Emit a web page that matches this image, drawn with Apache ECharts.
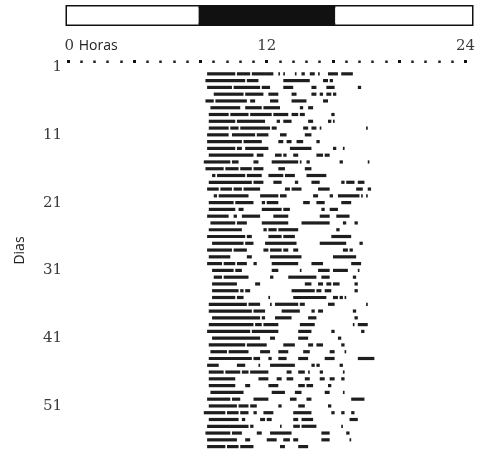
<!DOCTYPE html>
<html>
<head>
<meta charset="utf-8">
<script src="https://cdn.jsdelivr.net/npm/echarts@6/dist/echarts.min.js"></script>
<style>
  html, body { margin: 0; padding: 0; background: #fff; }
  #chart { width: 478px; height: 450px; }
</style>
</head>
<body>
<div id="chart"></div>
<script>
// horas marcadas no eixo de cima, dias marcados no eixo da esquerda
var hourLabels = [0, 12, 24];
var dayLabels = [1, 11, 21, 31, 41, 51];

// fase de luz (claro / escuro) da barra superior, em horas
var lightPhases = [
	[0, 7.8, 'claro'],
	[7.8, 15.9, 'escuro'],
	[15.9, 24, 'claro']
];

// primeiro dia com registo de actividade
var firstDay = 2;

// periodos de actividade de cada dia [inicio, fim] em horas
var activity = [
	[[8.4,10.1],[10.2,11.0],[11.1,11.9],[11.9,12.4],[12.7,12.8],[13.0,13.1],[13.7,13.8],[14.1,14.3],[14.6,14.9],[15.1,15.2],[15.7,16.3],[16.5,17.2]],
	[[8.3,10.7],[10.8,11.5],[13.0,14.6],[15.4,15.7],[15.8,16.0]],
	[[8.4,9.9],[10.0,11.6],[11.7,12.2],[13.0,13.6],[14.7,15.0],[15.6,16.1],[17.5,17.7]],
	[[8.8,10.6],[10.7,11.8],[12.1,12.7],[13.5,13.8],[14.7,15.0],[15.2,15.4],[15.6,15.9],[16.0,16.2]],
	[[8.3,8.8],[8.9,10.8],[11.0,11.3],[12.2,12.7],[13.5,14.4],[15.4,15.7]],
	[[8.6,10.4],[10.7,11.7],[11.8,12.8],[14.0,14.2],[14.5,14.8]],
	[[8.5,9.7],[9.8,10.9],[11.0,12.3],[12.4,13.3],[13.5,13.9],[14.0,14.3],[15.9,16.1]],
	[[8.5,10.1],[10.2,11.9],[12.6,12.8],[13.0,13.5],[14.5,14.8],[15.7,15.9],[16.0,16.1]],
	[[8.5,9.7],[9.8,10.3],[10.4,12.2],[12.3,12.6],[14.2,14.5],[14.7,15.0],[15.2,15.3],[18.0,18.1]],
	[[8.4,9.7],[9.9,11.3],[11.4,12.1],[12.8,13.2],[14.3,14.7]],
	[[8.4,10.5],[10.6,11.7],[12.7,13.0],[13.2,13.5],[13.8,14.2],[15.0,15.2]],
	[[8.4,10.1],[10.2,10.5],[10.7,12.1],[13.4,14.7],[16.0,16.2],[16.6,16.7]],
	[[8.5,11.2],[11.4,11.8],[12.5,12.9],[13.0,13.2],[13.6,13.9],[15.0,15.4],[15.5,15.8]],
	[[8.2,9.8],[9.9,10.3],[11.2,11.5],[12.3,13.9],[14.0,14.1],[14.4,14.6],[16.4,16.6],[18.1,18.2]],
	[[8.3,9.4],[9.5,10.3],[10.4,11.1],[11.2,11.8],[12.7,13.1],[14.3,14.7]],
	[[8.7,8.9],[9.0,10.7],[10.8,11.7],[12.1,13.0],[13.1,13.7],[14.4,15.6]],
	[[8.5,11.1],[11.2,11.8],[12.4,12.9],[13.7,13.9],[14.7,15.2],[16.5,16.7],[16.8,17.3],[17.5,17.9]],
	[[8.4,9.1],[9.2,9.9],[10.0,10.5],[10.6,11.6],[13.1,13.4],[13.5,14.1],[15.1,15.8],[17.4,17.8],[18.1,18.3]],
	[[8.8,9.0],[9.1,10.9],[11.6,12.7],[12.8,13.2],[14.8,15.1],[15.8,16.0],[16.3,17.6],[17.7,17.8],[18.0,18.1]],
	[[8.5,10.0],[10.1,11.2],[11.7,11.9],[12.0,12.7],[14.2,14.6],[15.0,15.5],[16.5,17.1]],
	[[8.5,10.1],[10.3,10.6],[11.7,12.9],[13.0,13.4],[15.3,15.5],[15.8,16.3]],
	[[8.4,9.7],[10.0,10.2],[10.5,11.6],[12.4,13.3],[15.2,15.8],[16.2,17.0]],
	[[8.6,10.1],[10.2,10.8],[11.7,13.3],[14.1,15.8],[16.6,16.8],[17.3,17.5]],
	[[8.5,10.5],[11.8,12.0],[12.1,12.6],[12.7,13.9],[16.2,16.4]],
	[[8.4,10.7],[10.8,11.1],[12.1,12.9],[13.0,13.7],[15.9,17.1]],
	[[8.7,10.6],[10.7,11.2],[11.9,13.8],[15.2,16.8],[17.6,17.8]],
	[[8.4,9.9],[10.0,10.8],[11.8,12.1],[12.2,12.9],[13.0,13.3],[13.6,13.9],[16.6,16.9],[17.0,17.2]],
	[[8.5,9.8],[10.8,11.1],[12.2,14.1],[16.0,17.4]],
	[[8.4,9.3],[9.4,10.1],[10.2,10.8],[11.2,11.4],[12.3,13.9],[14.7,15.4],[17.1,17.7]],
	[[8.7,10.0],[10.1,10.5],[12.3,12.7],[14.0,14.1],[15.1,15.8],[16.0,16.9],[17.5,17.6]],
	[[8.8,9.3],[9.4,10.9],[12.2,12.4],[13.3,15.0],[15.3,15.8],[17.2,17.4]],
	[[8.7,10.2],[11.3,11.6],[14.3,14.7],[15.1,15.4],[15.6,15.9],[16.0,16.4],[17.3,17.5]],
	[[8.7,10.3],[10.4,10.6],[10.7,11.0],[13.5,14.9],[15.0,15.3],[15.5,15.9],[17.3,17.5]],
	[[8.7,10.1],[10.2,10.6],[12.1,12.2],[13.6,15.6],[16.0,16.3],[16.4,16.6],[16.7,16.8]],
	[[8.5,10.8],[10.9,11.6],[12.2,12.3],[12.5,13.9],[14.0,14.3],[15.7,16.1],[18.0,18.1]],
	[[8.5,11.1],[11.2,11.9],[12.9,14.0],[14.7,14.9],[15.1,15.4],[17.2,17.4]],
	[[8.7,11.6],[11.7,11.9],[12.5,13.5],[14.5,15.0],[17.3,17.5]],
	[[8.5,11.2],[11.3,11.7],[11.8,12.7],[14.0,14.9],[17.2,17.3],[17.5,18.1]],
	[[8.4,11.0],[11.1,12.7],[13.9,14.7],[15.9,16.1],[17.7,17.9]],
	[[8.7,11.6],[12.2,12.5],[13.9,14.5],[16.3,16.5]],
	[[8.5,10.7],[10.8,12.0],[13.0,13.7],[14.5,14.8],[15.0,15.4],[16.5,16.7]],
	[[8.6,9.6],[9.7,10.9],[11.6,12.2],[12.7,13.3],[14.2,14.6],[15.8,16.1],[16.7,16.8]],
	[[8.5,11.1],[11.2,11.6],[12.1,12.3],[12.7,13.2],[13.9,14.5],[15.5,16.1],[17.5,18.5]],
	[[8.4,9.1],[10.2,10.7],[11.5,11.6],[12.2,13.7],[14.7,14.9],[15.0,15.2],[16.4,16.6]],
	[[8.5,9.4],[9.5,10.4],[10.5,10.9],[11.0,12.1],[13.2,13.5],[13.9,14.3],[14.5,14.6],[15.2,15.4],[16.6,16.7]],
	[[8.5,10.1],[11.5,12.1],[12.6,12.9],[13.2,13.6],[14.3,14.6],[15.2,15.5],[15.8,16.1],[16.5,16.7]],
	[[8.5,10.1],[10.7,11.0],[12.1,12.7],[13.9,14.3],[14.4,14.8],[15.7,15.9]],
	[[8.6,10.6],[12.3,13.1],[13.7,14.1],[15.5,15.8],[16.6,16.7]],
	[[8.4,9.8],[9.9,10.4],[11.2,12.1],[13.4,13.8],[14.4,14.7],[17.1,17.9]],
	[[8.5,10.2],[10.3,10.9],[11.0,11.4],[12.7,12.9],[13.9,14.3],[15.7,15.9]],
	[[8.2,9.5],[9.6,10.3],[10.4,10.9],[11.2,11.4],[11.8,12.4],[13.6,14.7],[15.9,16.1],[16.5,16.7],[17.1,17.3]],
	[[8.5,10.3],[10.5,10.7],[11.6,11.9],[12.0,12.3],[13.6,13.9],[14.1,14.8],[17.0,17.5]],
	[[8.4,10.9],[11.0,11.2],[12.8,12.9],[13.6,14.0],[14.1,15.0],[16.5,16.6]],
	[[8.3,9.8],[9.9,10.5],[11.4,11.7],[12.2,13.5],[15.3,15.8],[16.8,17.0]],
	[[8.4,10.2],[10.7,11.0],[12.0,12.6],[13.0,13.4],[13.6,13.9],[15.3,15.8],[17.0,17.1]],
	[[8.4,9.5],[9.6,10.3],[10.4,11.2],[12.8,13.1],[13.9,14.5]]
];

var segData = [];
for (var i = 0; i < activity.length; i++) {
	for (var j = 0; j < activity[i].length; j++) {
		segData.push([firstDay + i, activity[i][j][0], activity[i][j][1]]);
	}
}

var serif = '"DejaVu Serif", "Liberation Serif", serif';
var sans = '"Open Sans", "Noto Sans", sans-serif';

var dom = document.getElementById('chart');
var myChart = echarts.init(dom);
var option = {
	animation: false,
	grid: [
		{ left: 68, right: 8, top: 63, bottom: 0 },
		{ left: 67, right: 6, top: 6.5, height: 18, show: true, borderColor: '#111', borderWidth: 3, backgroundColor: '#fff' }
	],
	xAxis: [
		{
			gridIndex: 0,
			type: 'value',
			position: 'top',
			min: 0,
			max: 24,
			interval: 4,
			axisLine: { show: false },
			splitLine: { show: false },
			axisTick: { show: true, length: 3, lineStyle: { color: '#111', width: 3 } },
			minorTick: { show: true, splitNumber: 5, length: 2.5, lineStyle: { color: '#222', width: 2.5 } },
			minorSplitLine: { show: false },
			axisLabel: {
				margin: 9,
				customValues: hourLabels,
				color: '#3a3a3a',
				fontFamily: serif,
				fontSize: 15,
				formatter: function (v) {
					if (v === 0) return '{p|}{n|0} {h|Horas}';
					return '{n|' + v + '}';
				},
				rich: {
					p: { width: 46 },
					n: { fontFamily: serif, fontSize: 15, color: '#3a3a3a' },
					h: { fontFamily: sans, fontSize: 14, color: '#222' }
				}
			}
		},
		{
			gridIndex: 1,
			type: 'value',
			min: 0,
			max: 24,
			show: false
		}
	],
	yAxis: [
		{
			gridIndex: 0,
			type: 'value',
			inverse: true,
			min: 0.4,
			max: 57.5,
			axisLine: { show: false },
			axisTick: { show: false },
			splitLine: { show: false },
			axisLabel: {
				customValues: dayLabels,
				margin: 6,
				color: '#3a3a3a',
				fontFamily: serif,
				fontSize: 15
			},
			name: 'Dias',
			nameLocation: 'middle',
			nameRotate: 90,
			nameGap: 41,
			nameTextStyle: { fontFamily: sans, fontSize: 14, color: '#222', padding: [0, 0, 0, 12] }
		},
		{
			gridIndex: 1,
			type: 'value',
			min: 0,
			max: 1,
			show: false
		}
	],
	series: [
		{
			name: 'luz',
			type: 'custom',
			xAxisIndex: 1,
			yAxisIndex: 1,
			data: lightPhases,
			renderItem: function (params, api) {
				var a = api.coord([api.value(0), 1]);
				var b = api.coord([api.value(1), 0]);
				var dark = lightPhases[params.dataIndex][2] === 'escuro';
				return {
					type: 'rect',
					shape: { x: a[0], y: a[1], width: b[0] - a[0], height: b[1] - a[1] },
					style: { fill: dark ? '#111' : '#fff' }
				};
			}
		},
		{
			name: 'actividade',
			type: 'custom',
			xAxisIndex: 0,
			yAxisIndex: 0,
			data: segData,
			encode: { x: [1, 2], y: 0 },
			renderItem: function (params, api) {
				var a = api.coord([api.value(1), api.value(0)]);
				var b = api.coord([api.value(2), api.value(0)]);
				return {
					type: 'rect',
					shape: { x: a[0], y: a[1] - 1.6, width: b[0] - a[0], height: 3.2 },
					style: { fill: '#1e1e1e' }
				};
			}
		}
	]
};
if (option && typeof option === "object") {
	myChart.setOption(option, true);
}
</script>
</body>
</html>
